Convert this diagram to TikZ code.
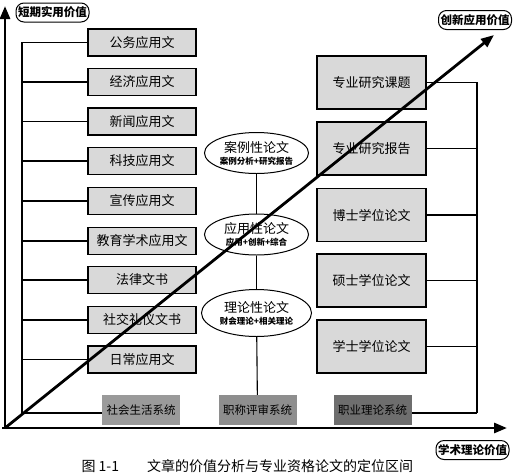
\documentclass[tikz,border=0pt]{standalone}
\usepackage{fontspec}
\setmainfont{Noto Sans CJK SC}
\usetikzlibrary{arrows.meta,shapes.geometric}
\definecolor{boxgray}{HTML}{D9D9D9}
\definecolor{sysA}{HTML}{9A9A9A}
\definecolor{sysB}{HTML}{8E8E8E}
\definecolor{sysC}{HTML}{6E6E6E}
\tikzset{
  lbox/.style={draw, line width=1.3pt, fill=boxgray, minimum width=108pt, minimum height=27pt, inner sep=0pt, font=\fontsize{13}{14}\selectfont},
  rbox/.style={draw, line width=1.3pt, fill=boxgray, minimum width=109pt, minimum height=53pt, inner sep=0pt, font=\fontsize{13}{14}\selectfont},
  sysbox/.style={minimum width=78pt, minimum height=30pt, inner sep=0pt, font=\fontsize{11.5}{12}\selectfont},
  ell/.style={draw, ellipse, line width=1pt, fill=white, minimum width=104pt, minimum height=41pt, inner sep=0pt, align=center, font=\fontsize{13}{14}\selectfont},
  axlabel/.style={draw, line width=1pt, rounded corners=8pt, inner sep=2pt, minimum height=19pt, font=\bfseries\fontsize{11.5}{12}\selectfont},
  conn/.style={line width=1.1pt},
  axis/.style={line width=2.8pt, -{Triangle[length=13pt,width=10pt]}}
}
\newcommand{\subline}[1]{{\bfseries\fontsize{8.5}{10}\selectfont #1}}
\begin{document}
\begin{tikzpicture}[x=1pt,y=-1pt]
\useasboundingbox (0,0) rectangle (517,475);
% left boxes
\node[lbox] (l1) at (142,42.5) {公务应用文};
\node[lbox] (l2) at (142,82) {经济应用文};
\node[lbox] (l3) at (142,121.5) {新闻应用文};
\node[lbox] (l4) at (142,161) {科技应用文};
\node[lbox] (l5) at (142,201) {宣传应用文};
\node[lbox] (l6) at (142,241) {教育学术应用文};
\node[lbox] (l7) at (142,280) {法律文书};
\node[lbox] (l8) at (142,320) {社交礼仪文书};
\node[lbox] (l9) at (142,359.5) {日常应用文};
% right boxes
\node[rbox] (r1) at (371.5,82.5) {专业研究课题};
\node[rbox] (r2) at (371.5,148.5) {专业研究报告};
\node[rbox] (r3) at (371.5,215) {博士学位论文};
\node[rbox] (r4) at (371.5,280.5) {硕士学位论文};
\node[rbox] (r5) at (371.5,346.5) {学士学位论文};
% system boxes
\node[sysbox, fill=sysA] (s1) at (141,410) {社会生活系统};
\node[sysbox, fill=sysB] (s2) at (257.5,410) {职称评审系统};
\node[sysbox, fill=sysC] (s3) at (372.5,410) {职业理论系统};
% ellipses
\node[ell] (e1) at (256.5,153) {案例性论文\\[-2pt]\subline{案例分析+研究报告}};
\node[ell] (e2) at (256.5,234.5) {应用性论文\\[-2pt]\subline{应用+创新+综合}};
\node[ell, minimum width=110pt, minimum height=47pt] (e3) at (256.5,313) {理论性论文\\[-2pt]\subline{财会理论+相关理论}};
% brackets
\coordinate (lb) at (22,413);
\coordinate (rb) at (477,413);
\draw[conn] (l1.west) -| (lb);
\foreach \i in {2,...,9} {\draw[conn] (l\i.west) -- (l\i.west -| lb);}
\draw[conn] (lb) -- (s1.west |- lb);
\draw[conn] (r1.east) -| (rb);
\foreach \i in {2,...,5} {\draw[conn] (r\i.east) -- (r\i.east -| rb);}
\draw[conn] (rb) -- (s3.east |- rb);
\draw[conn] (e1) -- (e2);
\draw[conn] (e2) -- (e3);
\draw[conn] (e3) -- (s2);
% axes
\coordinate (o) at (5,428);
\coordinate (ytip) at (5,6);
\coordinate (xtip) at (507,428);
\coordinate (dtip) at (494,35);
\draw[axis] (o) -- (ytip);
\draw[axis] (2,428) -- (xtip);
\draw[axis] (o) -- (dtip);
% axis labels
\node[axlabel] (ly) at (52.5,12.5) {短期实用价值};
\node[axlabel] (ld) at (475,20) {创新应用价值};
\node[axlabel] (lx) at (472.5,450) {学术理论价值};
% caption
\node[font=\fontsize{14}{16}\selectfont, anchor=west] (cap) at (78,466) {图 1-1\hspace{2em}文章的价值分析与专业资格论文的定位区间};
\end{tikzpicture}
\end{document}
